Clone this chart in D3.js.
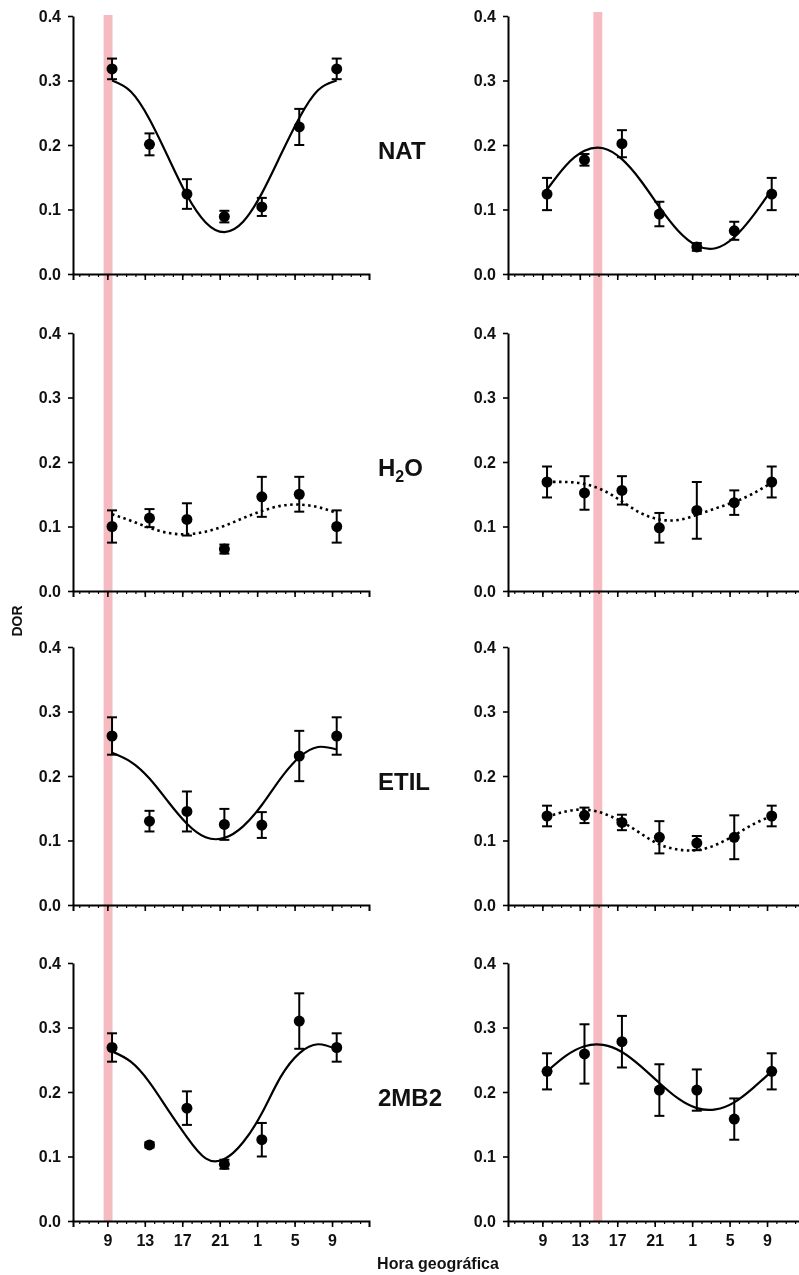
<!DOCTYPE html>
<html>
<head>
<meta charset="utf-8">
<script src="https://cdn.jsdelivr.net/npm/d3@7"></script>
<style>
body { margin: 0; background: #fff; }
svg { display: block; font-family: "Liberation Sans", Arial, sans-serif; font-weight: bold; }
.axis path, .axis line { stroke: #000; }
.axis text { fill: #111; font-size: 16px; font-weight: bold; font-family: "Liberation Sans", Arial, sans-serif; }
</style>
</head>
<body>
<div id="svg_container"></div>
<script>
/* -----------------------
data
------------------------- */

// sampling hours (data are plotted half an hour after the clock label)
var hours = [9.5, 13.5, 17.5, 21.5, 25.5, 29.5, 33.5];
var fitHours = [9.5, 11.5, 13.5, 15.5, 17.5, 19.5, 21.5, 23.5, 25.5, 27.5, 29.5, 31.5, 33.5];
var tickHours = [9, 13, 17, 21, 25, 29, 33];
var tickLabels = ["9", "13", "17", "21", "1", "5", "9"];
var yTicks = [0, 0.1, 0.2, 0.3, 0.4];

var groups = ["NAT", "H2O", "ETIL", "2MB2"];
// pink bands (hours) : left column, right column
var bandHours = [[8.6, 9.55], [14.45, 15.4]];

// left column
var natA_mean = [0.318, 0.201, 0.124, 0.089, 0.104, 0.228, 0.318];
var natA_sem  = [0.016, 0.017, 0.023, 0.009, 0.014, 0.028, 0.016];
var natA_fit  = [0.300, 0.283, 0.240, 0.181, 0.122, 0.080, 0.065, 0.081, 0.125, 0.184, 0.242, 0.285, 0.300];

var h2oA_mean = [0.100, 0.113, 0.111, 0.065, 0.146, 0.150, 0.100];
var h2oA_sem  = [0.025, 0.014, 0.025, 0.007, 0.031, 0.027, 0.025];
var h2oA_fit  = [0.119, 0.109, 0.098, 0.090, 0.088, 0.092, 0.101, 0.113, 0.124, 0.132, 0.134, 0.130, 0.121];

var etilA_mean = [0.262, 0.130, 0.145, 0.125, 0.124, 0.231, 0.262];
var etilA_sem  = [0.029, 0.016, 0.031, 0.024, 0.020, 0.039, 0.029];
var etilA_fit  = [0.236, 0.222, 0.196, 0.160, 0.126, 0.105, 0.104, 0.122, 0.155, 0.196, 0.229, 0.245, 0.241];

var mb2A_mean = [0.269, 0.118, 0.175, 0.088, 0.126, 0.310, 0.269];
var mb2A_sem  = [0.022, 0.004, 0.026, 0.007, 0.026, 0.043, 0.022];
var mb2A_fit  = [0.263, 0.247, 0.215, 0.172, 0.130, 0.097, 0.096, 0.122, 0.167, 0.223, 0.260, 0.274, 0.266];

// right column
var natB_mean = [0.124, 0.177, 0.202, 0.093, 0.042, 0.067, 0.124];
var natB_sem  = [0.025, 0.009, 0.021, 0.019, 0.006, 0.014, 0.025];
var natB_fit  = [0.131, 0.168, 0.191, 0.195, 0.178, 0.145, 0.104, 0.067, 0.044, 0.040, 0.057, 0.090, 0.131];

var h2oB_mean = [0.169, 0.152, 0.156, 0.098, 0.125, 0.137, 0.169];
var h2oB_sem  = [0.024, 0.026, 0.022, 0.023, 0.044, 0.019, 0.024];
var h2oB_fit  = [0.169, 0.169, 0.166, 0.156, 0.139, 0.121, 0.111, 0.110, 0.118, 0.128, 0.138, 0.151, 0.168];

var etilB_mean = [0.138, 0.139, 0.128, 0.105, 0.096, 0.105, 0.138];
var etilB_sem  = [0.016, 0.012, 0.012, 0.025, 0.011, 0.034, 0.016];
var etilB_fit  = [0.137, 0.145, 0.148, 0.142, 0.129, 0.111, 0.094, 0.086, 0.085, 0.093, 0.108, 0.125, 0.138];

var mb2B_mean = [0.232, 0.259, 0.278, 0.203, 0.203, 0.158, 0.232];
var mb2B_sem  = [0.028, 0.046, 0.040, 0.040, 0.032, 0.032, 0.028];
var mb2B_fit  = [0.232, 0.256, 0.271, 0.273, 0.262, 0.240, 0.214, 0.190, 0.175, 0.173, 0.184, 0.206, 0.232];

// dotted fit = non significant rhythm
var panels = [
    {row: 0, col: 0, mean: natA_mean,  sem: natA_sem,  fit: natA_fit,  dotted: false},
    {row: 0, col: 1, mean: natB_mean,  sem: natB_sem,  fit: natB_fit,  dotted: false},
    {row: 1, col: 0, mean: h2oA_mean,  sem: h2oA_sem,  fit: h2oA_fit,  dotted: true},
    {row: 1, col: 1, mean: h2oB_mean,  sem: h2oB_sem,  fit: h2oB_fit,  dotted: true},
    {row: 2, col: 0, mean: etilA_mean, sem: etilA_sem, fit: etilA_fit, dotted: false},
    {row: 2, col: 1, mean: etilB_mean, sem: etilB_sem, fit: etilB_fit, dotted: true},
    {row: 3, col: 0, mean: mb2A_mean,  sem: mb2A_sem,  fit: mb2A_fit,  dotted: false},
    {row: 3, col: 1, mean: mb2B_mean,  sem: mb2B_sem,  fit: mb2B_fit,  dotted: false}
];

/* -----------------------
layout
------------------------- */

var width = 799, height = 1275;
var colLeft = [73, 508],
    rowTop = [16, 333, 647, 963],
    pw = 296, ph = 258;

var svg = d3.select("#svg_container")
    .append("svg")
    .attr("width", width)
    .attr("height", height);

var x = d3.scaleLinear().domain([5.33, 36.95]).range([0, pw]);
var y = d3.scaleLinear().domain([0, 0.4]).range([ph, 0]);

var line = d3.line()
    .curve(d3.curveNatural)
    .x(function(d) { return x(d[0]); })
    .y(function(d) { return y(d[1]); });

panels.forEach(function(p) {
    var g = svg.append("g")
        .attr("transform", "translate(" + colLeft[p.col] + "," + rowTop[p.row] + ")");

    // minor hour ticks
    g.append("g")
        .attr("class", "axis")
        .attr("transform", "translate(0," + ph + ")")
        .call(d3.axisBottom(x).tickValues(d3.range(6, 37)).tickSize(3).tickSizeOuter(0).tickFormat(""))
        .call(function(a) { a.select(".domain").remove(); a.selectAll("line").attr("stroke-width", 1.2); });

    // major ticks
    g.append("g")
        .attr("class", "axis")
        .attr("transform", "translate(0," + ph + ")")
        .call(d3.axisBottom(x).tickValues(tickHours).tickSize(6).tickSizeOuter(6).tickPadding(8)
            .tickFormat(function(d, i) { return p.row == 3 ? tickLabels[i] : ""; }))
        .call(function(a) {
            a.select(".domain").attr("stroke-width", 2);
            a.selectAll("line").attr("stroke-width", 1.6);
        });

    g.append("g")
        .attr("class", "axis")
        .call(d3.axisLeft(y).tickValues(yTicks).tickSize(5).tickSizeOuter(0).tickPadding(7).tickFormat(d3.format(".1f")))
        .call(function(a) {
            a.select(".domain").attr("stroke-width", 2);
            a.selectAll("line").attr("stroke-width", 1.6);
        });

    // fitted curve
    g.append("path")
        .datum(fitHours.map(function(h, i) { return [h, p.fit[i]]; }))
        .attr("d", line)
        .attr("fill", "none")
        .attr("stroke", "#000")
        .attr("stroke-width", p.dotted ? 2.6 : 2.2)
        .attr("stroke-dasharray", p.dotted ? "2.5,3.5" : null);

    // error bars
    var eb = g.selectAll(".eb")
        .data(hours.map(function(h, i) { return {h: h, m: p.mean[i], s: p.sem[i]}; }))
        .enter().append("g")
        .attr("stroke", "#000")
        .attr("stroke-width", 2);
    eb.append("line")
        .attr("x1", function(d) { return x(d.h); })
        .attr("x2", function(d) { return x(d.h); })
        .attr("y1", function(d) { return y(d.m - d.s); })
        .attr("y2", function(d) { return y(d.m + d.s); });
    eb.append("line")
        .attr("x1", function(d) { return x(d.h) - 5; })
        .attr("x2", function(d) { return x(d.h) + 5; })
        .attr("y1", function(d) { return y(d.m + d.s); })
        .attr("y2", function(d) { return y(d.m + d.s); });
    eb.append("line")
        .attr("x1", function(d) { return x(d.h) - 5; })
        .attr("x2", function(d) { return x(d.h) + 5; })
        .attr("y1", function(d) { return y(d.m - d.s); })
        .attr("y2", function(d) { return y(d.m - d.s); });

    g.selectAll("circle")
        .data(hours.map(function(h, i) { return [h, p.mean[i]]; }))
        .enter().append("circle")
        .attr("cx", function(d) { return x(d[0]); })
        .attr("cy", function(d) { return y(d[1]); })
        .attr("r", 5.5)
        .attr("fill", "#000");
});

// pink bands across all rows
bandHours.forEach(function(b, c) {
    svg.append("rect")
        .attr("x", colLeft[c] + x(b[0]))
        .attr("width", x(b[1]) - x(b[0]))
        .attr("y", c == 0 ? 15 : 12)
        .attr("height", rowTop[3] + ph - (c == 0 ? 15 : 12))
        .attr("fill", "#f6bac1")
        .style("mix-blend-mode", "multiply");
});

// group labels
groups.forEach(function(name, r) {
    var t = svg.append("text")
        .attr("x", 378)
        .attr("y", rowTop[r] + y(0.2) + 14)
        .attr("font-size", "24px")
        .attr("fill", "#111");
    if (name == "H2O") {
        t.append("tspan").text("H");
        t.append("tspan").text("2").attr("font-size", "16px").attr("dy", 6);
        t.append("tspan").text("O").attr("dy", -6);
    } else {
        t.text(name);
    }
});

// axis titles
svg.append("text")
    .attr("transform", "translate(22,621) rotate(-90)")
    .attr("text-anchor", "middle")
    .attr("font-size", "14px")
    .attr("fill", "#111")
    .text("DOR");

svg.append("text")
    .attr("x", 438)
    .attr("y", 1269)
    .attr("text-anchor", "middle")
    .attr("font-size", "16px")
    .attr("fill", "#111")
    .text("Hora geográfica");
</script>
</body>
</html>
